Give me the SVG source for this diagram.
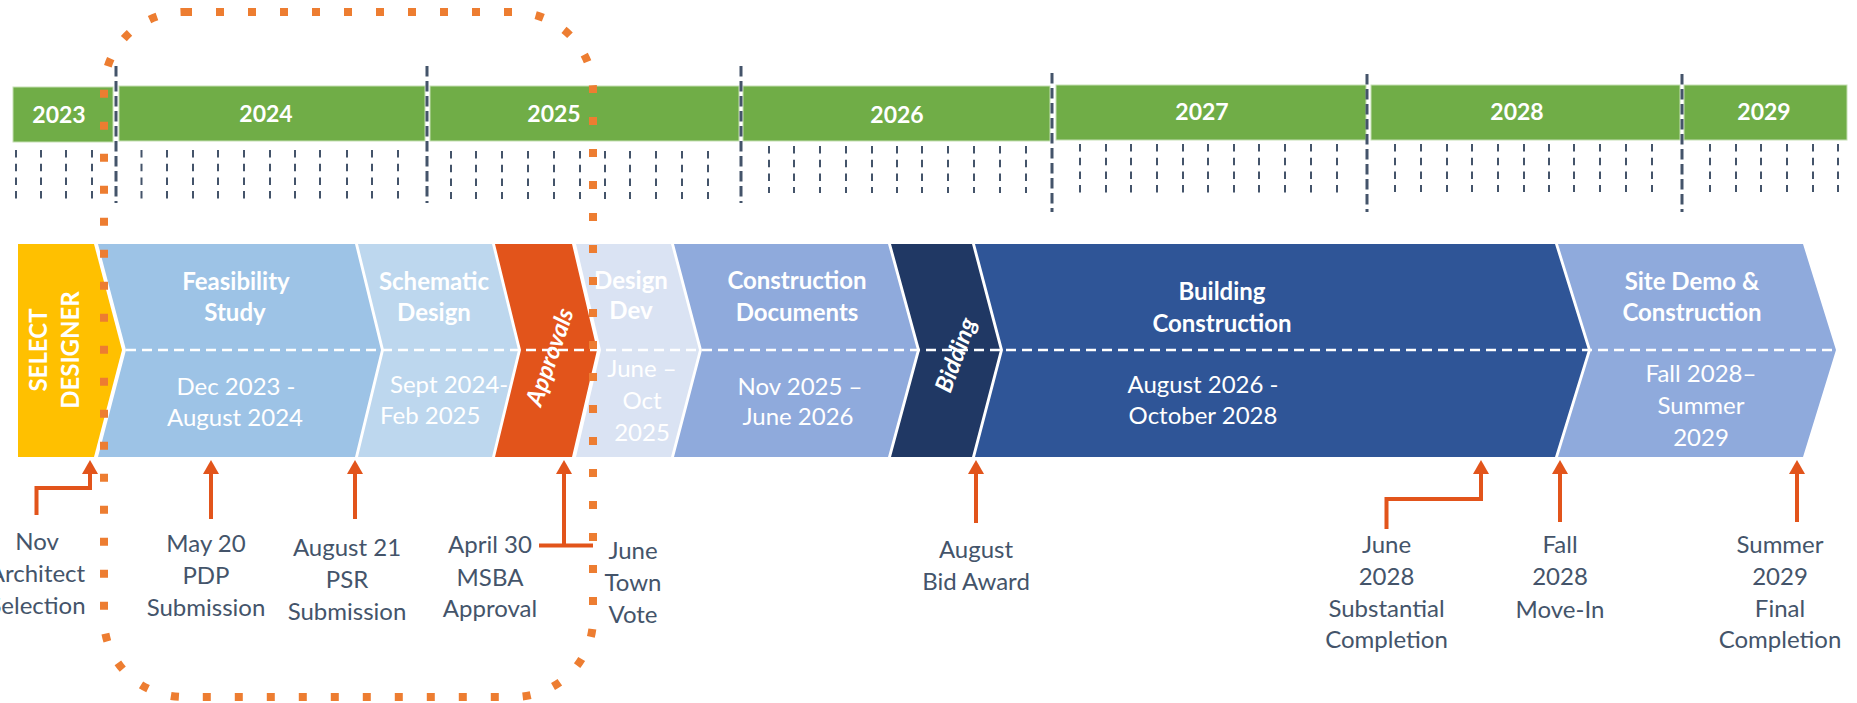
<svg xmlns="http://www.w3.org/2000/svg" width="1857" height="703" viewBox="0 0 1857 703">
<style>
.yb{fill:#70AD47;stroke:#C5DFB4;stroke-width:1}
.yt{font-family:Lato,"Liberation Sans",sans-serif;font-weight:bold;font-size:23px;fill:#fff;text-anchor:middle}
.tk{stroke:#44546A;stroke-width:2;stroke-dasharray:7.5 6.2;fill:none}
.sep{stroke:#44546A;stroke-width:3;stroke-dasharray:10.5 4.5;fill:none}
.ph{font-family:Lato,"Liberation Sans",sans-serif;font-weight:bold;font-size:24px;fill:#fff;text-anchor:middle}
.dt{font-family:Lato,"Liberation Sans",sans-serif;font-size:24px;fill:#fff;text-anchor:middle}
.it{font-family:Lato,"Liberation Sans",sans-serif;font-weight:bold;font-style:italic;font-size:24px;fill:#fff;text-anchor:middle}
.lb{font-family:Lato,"Liberation Sans",sans-serif;font-size:24px;fill:#44546A;text-anchor:middle}
.ar{stroke:#E2541B;stroke-width:4;fill:none;marker-end:url(#ah)}
.ln{stroke:#E2541B;stroke-width:4;fill:none}
</style>
<defs>
<marker id="ah" viewBox="0 0 14 16" refX="1" refY="8" markerWidth="14" markerHeight="16" markerUnits="userSpaceOnUse" orient="auto">
<path d="M0,0 L14,8 L0,16 z" fill="#E2541B"/>
</marker>
</defs>
<rect width="1857" height="703" fill="#fff"/>

<g id="years">
<g id="y2023"><rect class="yb" x="13" y="87" width="100" height="55"/><text class="yt" x="59" y="123">2023</text></g>
<g id="y2024"><rect class="yb" x="119" y="86" width="306" height="55"/><text class="yt" x="266" y="122">2024</text></g>
<g id="y2025"><rect class="yb" x="430" y="86" width="309" height="55"/><text class="yt" x="554" y="122">2025</text></g>
<g id="y2026"><rect class="yb" x="743" y="86" width="307" height="55"/><text class="yt" x="897" y="123">2026</text></g>
<g id="y2027"><rect class="yb" x="1056" y="85" width="310" height="55"/><text class="yt" x="1202" y="120">2027</text></g>
<g id="y2028"><rect class="yb" x="1371" y="85" width="309" height="55"/><text class="yt" x="1517" y="120">2028</text></g>
<g id="y2029"><rect class="yb" x="1684" y="85" width="163" height="55"/><text class="yt" x="1764" y="120">2029</text></g>
</g>

<g id="ticks">
<path class="tk" d="M16,150V199M41,150V199M66,150V199M92,150V199"/>
<path class="tk" d="M141.5,150V199M167,150V199M193,150V199M218,150V199M244,150V199M270,150V199M295,150V199M320,150V199M347,150V199M372,150V199M398,150V199"/>
<path class="tk" d="M451,151V199M476,151V199M502,151V199M528,151V199M554,151V199M580,151V199M605,151V199M630,151V199M656,151V199M682,151V199M708,151V199"/>
<path class="tk" d="M769,146V193M794,146V193M820,146V193M846,146V193M872,146V193M897,146V193M922,146V193M948,146V193M974,146V193M1000,146V193M1026,146V193"/>
<path class="tk" d="M1080,144V193M1106,144V193M1131,144V193M1157,144V193M1183,144V193M1208,144V193M1234,144V193M1259,144V193M1285,144V193M1311,144V193M1337,144V193"/>
<path class="tk" d="M1395,144V192M1421,144V192M1447,144V192M1472,144V192M1498,144V192M1524,144V192M1549,144V192M1574,144V192M1600,144V192M1626,144V192M1652,144V192"/>
<path class="tk" d="M1710,144V192M1736,144V192M1761,144V192M1787,144V192M1813,144V192M1838,144V192"/>
</g>

<g id="separators">
<path class="sep" d="M116,66V203M427,66V203M741,66V203M1052,73V212M1367,74V212M1682,74V212"/>
</g>

<g id="phase-select">
<polygon points="18,244 94,244 122,350 94,457 18,457" fill="#FFC000"/>
<g transform="translate(0,350) rotate(-90)">
<text class="ph" x="0" y="47">SELECT</text>
<text class="ph" x="0" y="79">DESIGNER</text>
</g>
</g>
<g id="phase-feasibility">
<polygon points="98,244 355,244 381,350 355,457 98,457 126,350" fill="#9DC3E6"/>
<text class="ph" x="236" y="290">Feasibility</text>
<text class="ph" x="235" y="321">Study</text>
<text class="dt" x="236" y="395">Dec 2023 -</text>
<text class="dt" x="235" y="426">August 2024</text>
</g>
<g id="phase-schematic">
<polygon points="358,244 492,244 518,350 492,457 358,457 384,350" fill="#BDD7EE"/>
<text class="ph" x="434" y="290">Schematic</text>
<text class="ph" x="434" y="321">Design</text>
<text class="dt" x="390" y="393" text-anchor="start" style="text-anchor:start">Sept 2024-</text>
<text class="dt" x="380" y="424" style="text-anchor:start">Feb 2025</text>
</g>
<g id="phase-approvals">
<polygon points="495,244 572,244 597,350 572,457 495,457 521,350" fill="#E2541B"/>
<text class="it" transform="translate(550,357) rotate(-71)" x="0" y="8">Approvals</text>
</g>
<g id="phase-designdev">
<polygon points="576,244 671,244 699,350 671,457 576,457 601,350" fill="#DAE3F3"/>
<text class="ph" x="631" y="289">Design</text>
<text class="ph" x="631" y="319">Dev</text>
<text class="dt" x="642" y="377">June –</text>
<text class="dt" x="642" y="409">Oct</text>
<text class="dt" x="642" y="441">2025</text>
</g>
<g id="phase-cd">
<polygon points="674,244 888,244 917,350 888,457 674,457 702,350" fill="#8FAADC"/>
<text class="ph" x="797" y="289">Construction</text>
<text class="ph" x="797" y="321">Documents</text>
<text class="dt" x="800" y="395">Nov 2025 –</text>
<text class="dt" x="798" y="425">June 2026</text>
</g>
<g id="phase-bidding">
<polygon points="891,244 972,244 1000,350 972,457 891,457 920,350" fill="#203864"/>
<text class="it" transform="translate(956,355) rotate(-70)" x="0" y="8">Bidding</text>
</g>
<g id="phase-building">
<polygon points="975,244 1555,244 1588,350 1555,457 975,457 1003,350" fill="#2F5597"/>
<text class="ph" x="1222" y="300">Building</text>
<text class="ph" x="1222" y="332">Construction</text>
<text class="dt" x="1203" y="393">August 2026 -</text>
<text class="dt" x="1203" y="424">October 2028</text>
</g>
<g id="phase-site">
<polygon points="1558,244 1803,244 1836,350 1803,457 1558,457 1591,350" fill="#8FAADC"/>
<text class="ph" x="1692" y="290">Site Demo &amp;</text>
<text class="ph" x="1692" y="321">Construction</text>
<text class="dt" x="1701" y="382">Fall 2028–</text>
<text class="dt" x="1701" y="414">Summer</text>
<text class="dt" x="1701" y="446">2029</text>
</g>
<path d="M126,350H1836" stroke="#fff" stroke-width="2.5" stroke-dasharray="10 6" fill="none"/>

<rect x="104" y="12" width="489" height="685" rx="80" ry="78" fill="none" stroke="#ED7D31" stroke-width="8" stroke-dasharray="8 24"/>

<g id="connectors">
<path class="ar" d="M36.5,515V488H90V473"/>
<path class="ar" d="M211,519V473"/>
<path class="ar" d="M355,519V473"/>
<path class="ln" d="M539,545.5H593"/>
<path class="ar" d="M564,545.5V473"/>
<path class="ar" d="M976,523V473"/>
<path class="ar" d="M1386.5,529V499H1481V473"/>
<path class="ar" d="M1560,522V473"/>
<path class="ar" d="M1797,522V473"/>
</g>

<g id="m-nov"><text class="lb" x="37" y="550">Nov</text><text class="lb" x="37" y="582">Architect</text><text class="lb" x="37" y="614">Selection</text></g>
<g id="m-may"><text class="lb" x="206" y="552">May 20</text><text class="lb" x="206" y="584">PDP</text><text class="lb" x="206" y="616">Submission</text></g>
<g id="m-aug21"><text class="lb" x="347" y="556">August 21</text><text class="lb" x="347" y="588">PSR</text><text class="lb" x="347" y="620">Submission</text></g>
<g id="m-apr"><text class="lb" x="490" y="553">April 30</text><text class="lb" x="490" y="586">MSBA</text><text class="lb" x="490" y="617">Approval</text></g>
<g id="m-june"><text class="lb" x="633" y="559">June</text><text class="lb" x="633" y="591">Town</text><text class="lb" x="633" y="623">Vote</text></g>
<g id="m-bid"><text class="lb" x="976" y="558">August</text><text class="lb" x="976" y="590">Bid Award</text></g>
<g id="m-sub"><text class="lb" x="1386.5" y="553">June</text><text class="lb" x="1386.5" y="585">2028</text><text class="lb" x="1386.5" y="617">Substantial</text><text class="lb" x="1386.5" y="648">Completion</text></g>
<g id="m-move"><text class="lb" x="1560" y="553">Fall</text><text class="lb" x="1560" y="585">2028</text><text class="lb" x="1560" y="618">Move-In</text></g>
<g id="m-final"><text class="lb" x="1780" y="553">Summer</text><text class="lb" x="1780" y="585">2029</text><text class="lb" x="1780" y="617">Final</text><text class="lb" x="1780" y="648">Completion</text></g>
</svg>
